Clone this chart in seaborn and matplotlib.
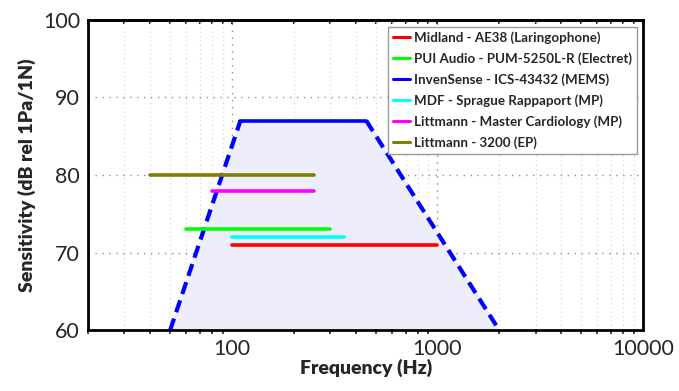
import numpy as np
import pandas as pd
import matplotlib
matplotlib.use('Agg')
import matplotlib.pyplot as plt
import seaborn as sns

# Device frequency ranges and sensitivities
devices = ['Midland - AE38 (Laringophone)',
           'PUI Audio - PUM-5250L-R (Electret)',
           'InvenSense - ICS-43432 (MEMS)',
           'MDF - Sprague Rappaport (MP)',
           'Littmann - Master Cardiology (MP)',
           'Littmann - 3200 (EP)']
f_low = [100, 60, 110, 100, 80, 40]
f_high = [1000, 300, 450, 350, 250, 250]
sens = [71, 73, 87, 72, 78, 80]
colors = ['#ff0000', '#00ff00', '#0000ff', '#00ffff', '#ff00ff', '#808000']

# MEMS response envelope (dashed roll-off)
mems_freq = [50, 110, 450, 2000]
mems_sens = [60, 87, 87, 60]

xticks = [100, 1000, 10000]
yticks = [60, 70, 80, 90, 100]

sns.set_style('white')
plt.rcParams['font.family'] = ['Lato', 'DejaVu Sans']

rows = []
for d, lo, hi, s in zip(devices, f_low, f_high, sens):
    rows.append({'device': d, 'freq': lo, 'sens': s})
    rows.append({'device': d, 'freq': hi, 'sens': s})
df = pd.DataFrame(rows)

fig = plt.figure(figsize=(6.79, 3.91), dpi=100)
ax = fig.add_axes([0.13, 0.155, 0.817, 0.795])

# envelope fill and dashed slopes
ax.fill_between(mems_freq, mems_sens, 60, color='#eeeefa', zorder=1)
ax.plot(mems_freq[:2], mems_sens[:2], color='#0000ff', lw=3, ls=(0, (3, 1.6)), zorder=2)
ax.plot(mems_freq[2:], mems_sens[2:], color='#0000ff', lw=3, ls=(0, (3, 1.6)), zorder=2)

sns.lineplot(data=df, x='freq', y='sens', hue='device', hue_order=devices,
             palette=dict(zip(devices, colors)), units='device', estimator=None,
             sort=False, linewidth=2.6, ax=ax, zorder=3)

ax.set_xscale('log')
ax.set_xlim(20, 10000)
ax.set_ylim(60, 100)
ax.set_xticks(xticks)
ax.set_xticklabels([str(t) for t in xticks])
ax.set_yticks(yticks)

ax.grid(True, which='major', ls=(0, (1, 4)), color='#909090', lw=1.0)
ax.grid(True, which='minor', axis='x', ls=(0, (1, 3)), color='#d0d0d0', lw=0.8)
ax.set_axisbelow(True)

for sp in ax.spines.values():
    sp.set_linewidth(2)
    sp.set_color('black')

ax.tick_params(axis='both', which='major', direction='out', length=4, width=1.5,
               labelsize=15.5, pad=2)
ax.tick_params(axis='x', which='minor', direction='out', length=3, width=1.2,
               bottom=True)

# inward ticks along the top edge
top = ax.secondary_xaxis('top')
top.tick_params(axis='x', which='both', direction='in', length=3, width=1.5,
                labeltop=False)
top.spines['top'].set_linewidth(2)

ax.set_xlabel('Frequency (Hz)', fontsize=14, fontweight='heavy', labelpad=0)
ax.set_ylabel('Sensitivity (dB rel 1Pa/1N)', fontsize=14, fontweight='heavy', labelpad=5)

leg = ax.legend(loc='upper right', bbox_to_anchor=(0.994, 0.985),
                prop={'weight': 'bold', 'size': 9.6}, handlelength=1.25,
                handletextpad=0.35, borderpad=0.35, labelspacing=0.62,
                borderaxespad=0.2, frameon=True, fancybox=False,
                edgecolor='#999999', framealpha=1)
leg.get_frame().set_linewidth(1)
for line in leg.get_lines():
    line.set_linewidth(2.2)

fig.savefig('out.png', dpi=100)
